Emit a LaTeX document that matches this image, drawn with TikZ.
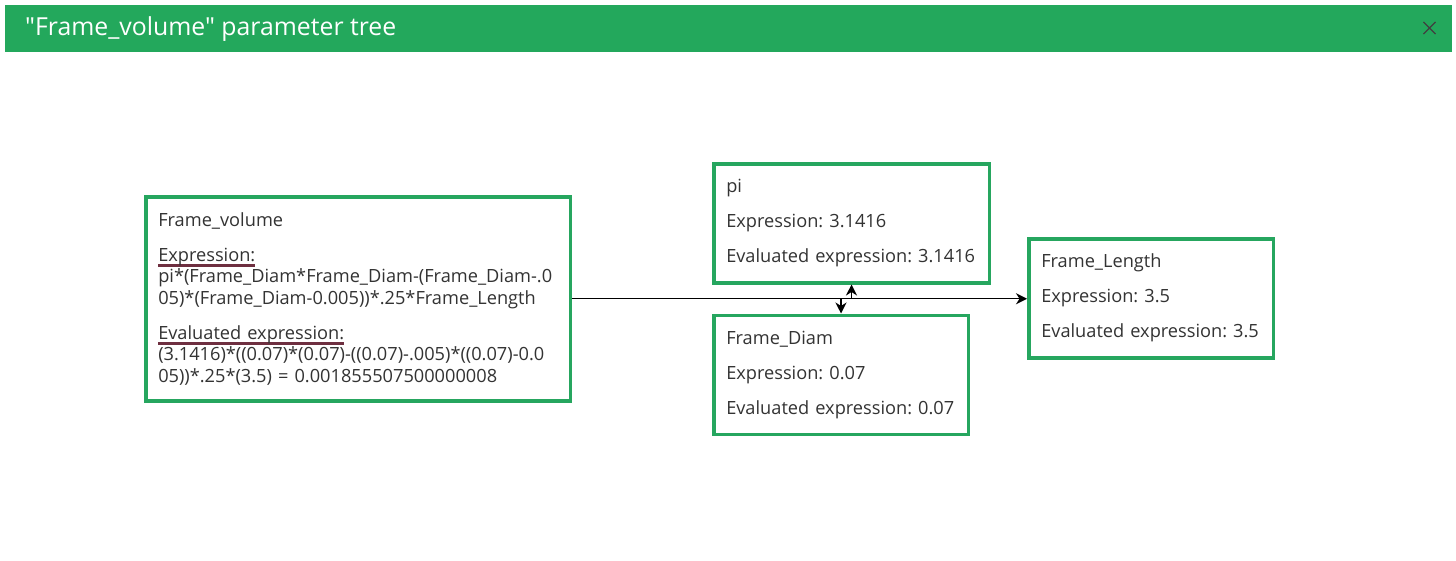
\documentclass[tikz,border=0pt]{standalone}
\usepackage{fontspec}
\setmainfont{Open Sans}[Ligatures=TeXOff]
\usetikzlibrary{positioning}
\usetikzlibrary{shapes.misc}
\usetikzlibrary{arrows.meta}
\definecolor{headgreen}{HTML}{23A85C}
\definecolor{boxgreen}{HTML}{26A65F}
\definecolor{undlred}{HTML}{6E2F40}
\definecolor{bodygray}{HTML}{333333}
\newcommand{\undlhead}[1]{\leavevmode\setbox0\hbox{#1}\rlap{\textcolor{undlred}{\rule[-6pt]{\wd0}{3.5pt}}}\box0}
\tikzset{
  parambox/.style={draw=boxgreen,line width=3.5pt,fill=white,anchor=north west,align=left,
    inner xsep=12.5pt,inner ysep=0pt,text=bodygray,
    font=\fontsize{18.2}{21.5}\selectfont\frenchspacing},
  link/.style={-{Stealth[length=11pt,width=11pt,inset=3.5pt]},line width=1.3pt,black},
}
\begin{document}
\begin{tikzpicture}[x=1pt,y=-1pt]
\useasboundingbox (0,0) rectangle (1456,560);
\node [fill=headgreen,minimum width=1447pt,minimum height=47pt,inner sep=0pt,outer sep=0pt,anchor=north west] (head) at (5,5) {};
\node [text=white,font=\fontsize{24.8}{28}\selectfont\frenchspacing,anchor=west,inner sep=0pt] (headtitle) at (25,29.5) {"Frame\_volume" parameter tree};
\node [draw=black!75,cross out,line width=1.1pt,minimum size=11pt,inner sep=0pt] (closebtn) at (1429.5,28) {};

\node [parambox,text width=399.5pt,minimum height=204pt] (main) at (144,195) {Frame\_volume\\[13.5pt]
  \undlhead{Expression:}\\
  pi*(Frame\_Diam*Frame\_Diam-(Frame\_Diam-.0\\
  05)*(Frame\_Diam-0.005))*.25*Frame\_Length\\[13.5pt]
  \undlhead{Evaluated expression:}\\
  (3.1416)*((0.07)*(0.07)-((0.07)-.005)*((0.07)-0.0\\
  05))*.25*(3.5) = 0.001855507500000008};
\node [parambox,text width=250.5pt,minimum height=119pt] (pi) at (712,162) {pi\\[13.5pt]
  Expression: 3.1416\\[13.5pt]
  Evaluated expression: 3.1416};
\node [parambox,text width=229.5pt,minimum height=119pt,below right=29pt and 0pt of pi.south west] (diam) {Frame\_Diam\\[13.5pt]
  Expression: 0.07\\[13.5pt]
  Evaluated expression: 0.07};
\node [parambox,text width=219.5pt,minimum height=119pt] (length) at (1027,237) {Frame\_Length\\[13.5pt]
  Expression: 3.5\\[13.5pt]
  Evaluated expression: 3.5};

\draw [link] (main.east) -- (main.east -| length.west);
\draw [link] (main.east) -| (pi.south);
\draw [link] (main.east) -| (diam.north);
\end{tikzpicture}
\end{document}
